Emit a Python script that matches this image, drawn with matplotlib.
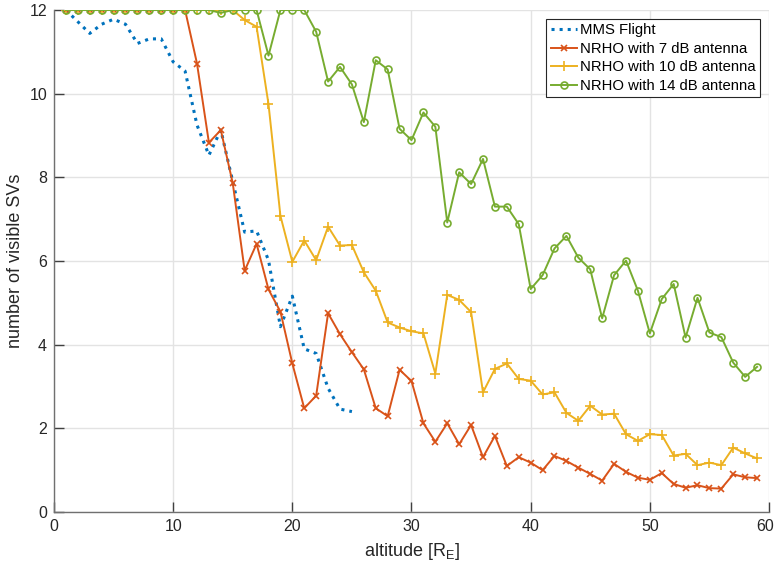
import matplotlib
matplotlib.use('Agg')
import matplotlib.pyplot as plt
import matplotlib.transforms as mtransforms
import numpy as np

plt.rcParams['font.family'] = ['Liberation Sans', 'DejaVu Sans']

ALT_MMS = list(range(1, 26))
MMS = [12.0, 11.72, 11.44, 11.66, 11.78, 11.66, 11.2, 11.31, 11.31, 10.76,
       10.54, 9.25, 8.53, 9.13, 7.9, 6.69, 6.72, 6.02, 4.43, 5.16,
       3.9, 3.79, 2.96, 2.46, 2.4]

ALT = list(range(1, 60))
NRHO_7 = [12, 12, 12, 12, 12, 12, 12, 12, 12, 12,
          12, 10.72, 8.83, 9.13, 7.86, 5.77, 6.41, 5.32, 4.79, 3.55,
          2.48, 2.78, 4.75, 4.25, 3.82, 3.41, 2.48, 2.29, 3.40, 3.13,
          2.12, 1.68, 2.12, 1.62, 2.08, 1.31, 1.82, 1.10, 1.31, 1.18,
          1.00, 1.34, 1.22, 1.06, 0.91, 0.75, 1.15, 0.96, 0.82, 0.77,
          0.93, 0.67, 0.58, 0.64, 0.57, 0.56, 0.90, 0.83, 0.81]
NRHO_10 = [12, 12, 12, 12, 12, 12, 12, 12, 12, 12,
           12, 12, 12, 12, 12, 11.76, 11.6, 9.75, 7.08, 5.98,
           6.49, 6.02, 6.82, 6.37, 6.38, 5.73, 5.29, 4.53, 4.41, 4.32,
           4.27, 3.31, 5.19, 5.07, 4.78, 2.86, 3.42, 3.55, 3.18, 3.14,
           2.81, 2.86, 2.37, 2.18, 2.54, 2.33, 2.35, 1.86, 1.70, 1.86,
           1.84, 1.35, 1.39, 1.12, 1.18, 1.12, 1.54, 1.40, 1.28]
NRHO_14 = [12, 12, 12, 12, 12, 12, 12, 12, 12, 12,
           12, 12, 12, 11.93, 12, 12, 12, 10.91, 12, 12,
           12, 11.48, 10.29, 10.64, 10.22, 9.32, 10.8, 10.58, 9.16, 8.89,
           9.55, 9.21, 6.92, 8.12, 7.84, 8.44, 7.3, 7.3, 6.88, 5.33,
           5.66, 6.30, 6.6, 6.08, 5.8, 4.63, 5.66, 6.01, 5.29, 4.27,
           5.09, 5.45, 4.17, 5.12, 4.29, 4.18, 3.57, 3.23, 3.47]

def main():
    fig = plt.figure(figsize=(7.76, 5.67), dpi=100)
    ax = fig.add_axes([54/776, 55/567, 715/776, 502/567])

    ax.plot(ALT_MMS, MMS, ':', color='#0072BD', lw=2.2, label='MMS Flight')
    ax.plot(ALT, NRHO_7, '-x', color='#D95319', lw=1.4, ms=5, mew=1.2,
            label='NRHO with 7 dB antenna')
    ax.plot(ALT, NRHO_10, '-+', color='#EDB120', lw=1.4, ms=7, mew=1.2,
            label='NRHO with 10 dB antenna')
    ax.plot(ALT, NRHO_14, '-o', color='#77AC30', lw=1.4, ms=5, mew=1.2,
            mfc='none', label='NRHO with 14 dB antenna')

    ax.set_xlim(0, 60)
    ax.set_ylim(0, 12)
    ax.set_xticks(np.arange(0, 61, 10))
    ax.set_yticks(np.arange(0, 13, 2))
    ax.grid(True, color='#e3e3e3', lw=1)
    ax.set_axisbelow(True)
    for s in ['top', 'right']:
        ax.spines[s].set_visible(False)
    for s in ['left', 'bottom']:
        ax.spines[s].set_color('#707070')
        ax.spines[s].set_linewidth(1.0)
    ax.tick_params(direction='in', length=7, width=1, color='#404040',
                   labelsize=11.5, labelcolor='#262626', pad=5)

    # keep the last x label inside the figure
    fig.canvas.draw()
    last = ax.get_xticklabels()[-1]
    last.set_transform(last.get_transform() +
                       mtransforms.ScaledTranslation(-4/100, 0, fig.dpi_scale_trans))

    ax.set_xlabel('altitude [R$_\\mathregular{E}$]', fontsize=13,
                  color='#262626', labelpad=5)
    ax.set_ylabel('number of visible SVs', fontsize=13,
                  color='#262626', labelpad=4)

    leg = ax.legend(loc='upper right', bbox_to_anchor=(0.9874, 0.982),
                    fontsize=10.7, fancybox=False, framealpha=1,
                    edgecolor='#262626', handlelength=1.75, handletextpad=0.2,
                    borderpad=0.3, labelspacing=0.3, borderaxespad=0.0)
    leg.get_frame().set_linewidth(0.8)

    fig.savefig('out.png', dpi=100)

if __name__ == '__main__':
    main()
